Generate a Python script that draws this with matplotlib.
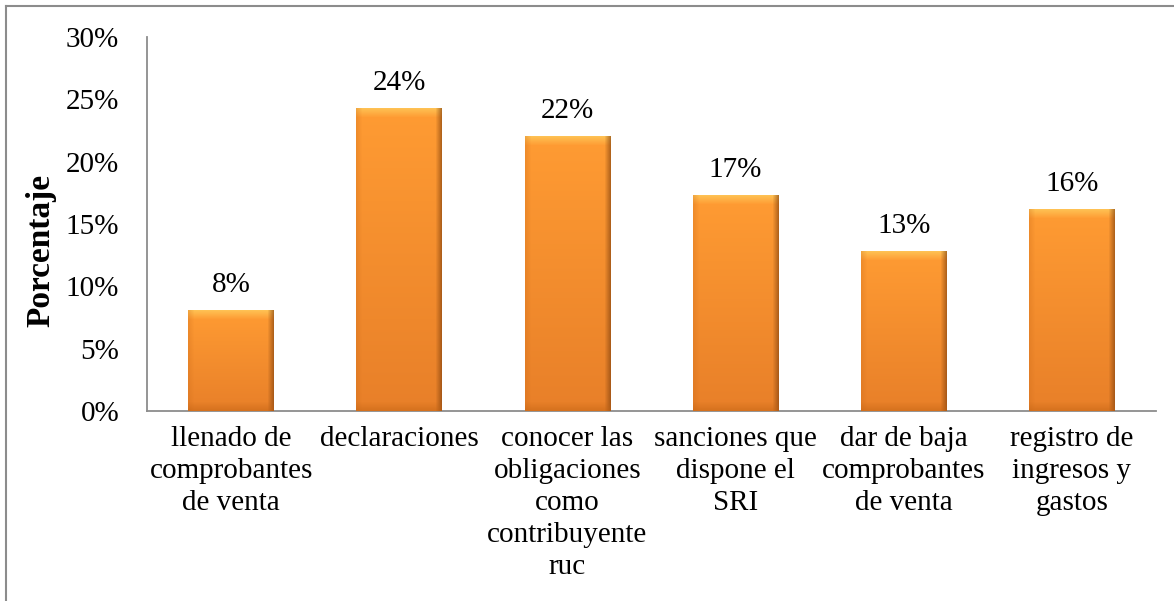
import numpy as np
import matplotlib.pyplot as plt
from matplotlib.lines import Line2D
from matplotlib.ticker import FuncFormatter

plt.rcParams['font.family'] = ['Liberation Serif', 'DejaVu Serif']

categorias = ['llenado de\ncomprobantes\nde venta', 'declaraciones',
              'conocer las\nobligaciones\ncomo\ncontribuyente\nruc',
              'sanciones que\ndispone el\nSRI', 'dar de baja\ncomprobantes\nde venta',
              'registro de\ningresos y\ngastos']
valores = [8.1, 24.3, 22.0, 17.3, 12.8, 16.2]
etiquetas = ['8%', '24%', '22%', '17%', '13%', '16%']
yticks = [0, 5, 10, 15, 20, 25, 30]

fig = plt.figure(figsize=(11.74, 6.01), dpi=100)
ax = fig.add_axes([0.1252, 0.3161, 0.8595, 0.6223])

x = np.arange(len(categorias))
bars = ax.bar(x, valores, width=0.51, color='#F7962F', edgecolor='none', zorder=2)

ax.set_xlim(-0.5, len(categorias) - 0.5)
ax.set_ylim(0, 30)
ax.set_yticks(yticks)
ax.yaxis.set_major_formatter(FuncFormatter(lambda v, p: '%d%%' % v))
ax.set_xticks(x)
ax.set_xticklabels(categorias, fontsize=21, linespacing=1.3, va='top')
ax.tick_params(axis='y', length=0, pad=20, labelsize=21)
ax.tick_params(axis='x', length=0, pad=11)
for s in ['top', 'right']:
    ax.spines[s].set_visible(False)
for s in ['left', 'bottom']:
    ax.spines[s].set_color('#8c8c8c')
    ax.spines[s].set_linewidth(1.3)

ax.set_ylabel('Porcentaje', fontsize=24, fontweight='bold')
ax.yaxis.set_label_coords(-0.09, 0.43)

# bevel look for each bar
fig.canvas.draw()
for b in bars:
    bb = b.get_window_extent()
    w = max(int(round(bb.width)), 2)
    h = max(int(round(bb.height)), 2)
    img = np.ones((h, w, 4))
    top = np.array([1.0, 0.61, 0.20])
    bot = np.array([0.91, 0.50, 0.16])
    t = np.linspace(0, 1, h)[:, None, None]
    img[:, :, :3] = top * (1 - t) + bot * t
    bev = 9
    side = 6
    # top bevel lighter
    for i in range(min(bev, h)):
        f = 1 - i / bev
        img[i, :, :3] = img[i, :, :3] * (1 - 0.7 * f) + np.array([1.0, 0.82, 0.38]) * 0.7 * f
    # right side darker
    for j in range(min(side, w)):
        f = 1 - j / side
        img[:, w - 1 - j, :3] = img[:, w - 1 - j, :3] * (1 - 0.6 * f) + np.array([0.50, 0.25, 0.05]) * 0.6 * f
    # left side slightly darker
    for j in range(min(side, w)):
        f = 1 - j / side
        img[:, j, :3] = img[:, j, :3] * (1 - 0.3 * f) + np.array([0.80, 0.42, 0.10]) * 0.3 * f
    # bottom darker
    for i in range(min(bev, h)):
        f = 1 - i / bev
        img[h - 1 - i, :, :3] = img[h - 1 - i, :, :3] * (1 - 0.45 * f) + np.array([0.75, 0.38, 0.07]) * 0.45 * f
    x0 = b.get_x()
    ax.imshow(img, extent=(x0, x0 + b.get_width(), 0, b.get_height()),
              aspect='auto', zorder=3, interpolation='bilinear')

ax.set_xlim(-0.5, len(categorias) - 0.5)
ax.set_ylim(0, 30)

for xi, v, lab in zip(x, valores, etiquetas):
    ax.annotate(lab, (xi, v), xytext=(0, 9), textcoords='offset points',
                ha='center', va='bottom', fontsize=21)

# outer frame (only left and top visible)
fig.add_artist(Line2D([6 / 1174, 6 / 1174], [0, 1 - 6 / 601], color='#8c8c8c', lw=1.5))
fig.add_artist(Line2D([6 / 1174, 1], [1 - 6 / 601, 1 - 6 / 601], color='#8c8c8c', lw=1.5))

fig.savefig('out.png', dpi=100)
